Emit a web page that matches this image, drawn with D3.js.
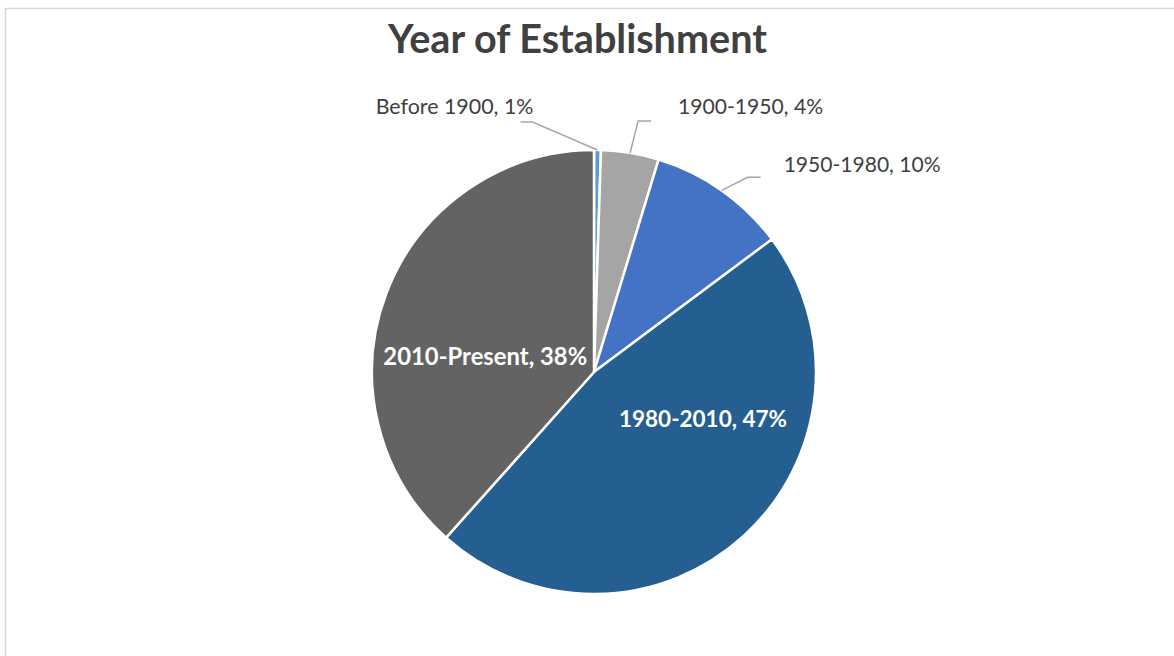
<!DOCTYPE html>
<html>
<head>
<meta charset="utf-8">
<script src="https://d3js.org/d3.v7.min.js"></script>
<style>
  body { margin: 0; background: #fff; }
  svg { display: block; }
</style>
</head>
<body>
<svg width="1174" height="656"></svg>
<script>
// data
var categories = ["Before 1900", "1900-1950", "1950-1980", "1980-2010", "2010-Present"];
var shares = [0.5, 4.2, 10.1, 46.8, 38.4];
var colors = ["#5B9BD5", "#A5A5A5", "#4472C4", "#255E91", "#636363"];
var title = "Year of Establishment";

// label layout: outside labels use a leader line, inside labels sit on the slice
var labelLayout = [
  { inside: false, elbow: [-65, -28], end: [-77, -28], text: [-64, -36], anchor: "end", w: 158 },
  { inside: false, elbow: [8, -32], end: [21, -32], text: [48, -39], anchor: "start", w: 145 },
  { inside: false, elbow: [26, -13], end: [39, -13], text: [62, -18], anchor: "start", w: 157 },
  { inside: true, text: [34, -27], w: 168 },
  { inside: true, text: [-5, 33], w: 204 }
];

var svg = d3.select("svg"),
    width = +svg.attr("width"),
    height = +svg.attr("height");

var font = "Lato, 'Open Sans', sans-serif";

// chart area border
svg.append("rect")
    .attr("x", 5.5).attr("y", 8.5)
    .attr("width", width + 10).attr("height", height + 10)
    .attr("fill", "#fff")
    .attr("stroke", "#D9D9D9")
    .attr("stroke-width", 1.5);

function fit(t, w) {
  var fs = parseFloat(t.attr("font-size"));
  var len = t.node().getComputedTextLength();
  t.attr("font-size", fs * w / len);
}

var titleText = svg.append("text")
    .attr("x", 577.5).attr("y", 53)
    .attr("text-anchor", "middle")
    .attr("font-family", font)
    .attr("font-weight", "bold")
    .attr("font-size", 34)
    .attr("fill", "#404040")
    .text(title);
fit(titleText, 379);

var cx = 594, cy = 372, radius = 222;

var data = categories.map(function(c, i) { return { name: c, value: shares[i], color: colors[i], layout: labelLayout[i] }; });

var pie = d3.pie().sort(null).value(function(d) { return d.value; });
var arc = d3.arc().innerRadius(0).outerRadius(radius);
var edge = d3.arc().innerRadius(radius).outerRadius(radius);

var g = svg.append("g").attr("transform", "translate(" + cx + "," + cy + ")");
var arcs = pie(data);

g.selectAll("path.slice")
  .data(arcs)
  .enter().append("path")
    .attr("class", "slice")
    .attr("d", arc)
    .attr("fill", function(d) { return d.data.color; })
    .attr("stroke", "#fff")
    .attr("stroke-width", 2.5)
    .attr("stroke-linejoin", "round");

function pct(v) { return Math.max(1, Math.round(v)) + "%"; }

var outLabels = arcs.filter(function(d) { return !d.data.layout.inside; });
var inLabels = arcs.filter(function(d) { return d.data.layout.inside; });

// leader lines
g.selectAll("polyline.leader")
  .data(outLabels)
  .enter().append("polyline")
    .attr("class", "leader")
    .attr("fill", "none")
    .attr("stroke", "#A6A6A6")
    .attr("stroke-width", 1.5)
    .attr("points", function(d) {
      var p = edge.centroid(d), L = d.data.layout;
      return [p, [p[0] + L.elbow[0], p[1] + L.elbow[1]], [p[0] + L.end[0], p[1] + L.end[1]]]
        .map(function(q) { return q.join(","); }).join(" ");
    });

g.selectAll("text.out")
  .data(outLabels)
  .enter().append("text")
    .attr("class", "out")
    .attr("font-family", font)
    .attr("font-size", 18)
    .attr("fill", "#404040")
    .attr("text-anchor", function(d) { return d.data.layout.anchor; })
    .attr("x", function(d) { return edge.centroid(d)[0] + d.data.layout.text[0]; })
    .attr("y", function(d) { return edge.centroid(d)[1] + d.data.layout.text[1]; })
    .text(function(d) { return d.data.name + ", " + pct(d.data.value); })
    .each(function(d) { fit(d3.select(this), d.data.layout.w); });

g.selectAll("text.in")
  .data(inLabels)
  .enter().append("text")
    .attr("class", "in")
    .attr("font-family", font)
    .attr("font-weight", "bold")
    .attr("font-size", 20)
    .attr("fill", "#fff")
    .attr("text-anchor", "middle")
    .attr("x", function(d) { return arc.centroid(d)[0] + d.data.layout.text[0]; })
    .attr("y", function(d) { return arc.centroid(d)[1] + d.data.layout.text[1]; })
    .text(function(d) { return d.data.name + ", " + pct(d.data.value); })
    .each(function(d) { fit(d3.select(this), d.data.layout.w); });
</script>
</body>
</html>
